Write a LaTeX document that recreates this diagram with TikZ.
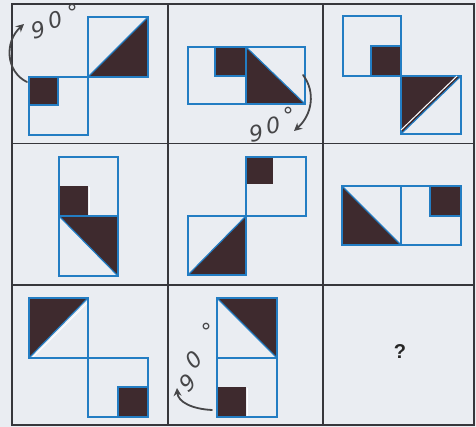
\documentclass[tikz,border=0pt]{standalone}
\usepackage{fontspec}
\setsansfont{Liberation Sans}
\newfontfamily\handfont{DejaVu Sans}
\usetikzlibrary{arrows.meta}
\definecolor{bl}{RGB}{35,125,195}
\definecolor{dk}{RGB}{62,42,46}
\definecolor{bgc}{RGB}{234,237,242}
\definecolor{gl}{RGB}{55,55,60}
\definecolor{hw}{RGB}{70,70,72}
\tikzset{
  sq/.style={draw=bl, line width=1.2pt},
  gridline/.style={draw=gl, line width=1.4pt},
  hand/.style={draw=hw, line width=1.8pt, line cap=round},
  handtext/.style={text=hw, font=\handfont\fontsize{22}{22}\selectfont\itshape, inner sep=0pt},
  gap/.style={draw=white, line width=1pt}
}
\begin{document}
\begin{tikzpicture}[x=1pt,y=-1pt]
\useasboundingbox (0,0) rectangle (476,427);
\fill[bgc] (0,0) rectangle (476,427);
% ---- cell 1
\fill[dk] (88,77)--(148,17)--(148,77)--cycle;
\fill[dk] (29,77) rectangle (58,105);
\draw[sq] (88,17) rectangle (148,77);
\draw[sq] (29,77) rectangle (88,135);
\draw[sq] (88,77)--(148,17);
\draw[sq] (29,105)--(58,105)--(58,77);
% ---- cell 2
\fill[dk] (215,47) rectangle (246,76);
\fill[dk] (246,47)--(305,104)--(246,104)--cycle;
\draw[sq] (188,47) rectangle (305,104);
\draw[sq] (246,47)--(246,104);
\draw[sq] (246,47)--(305,104);
\draw[sq] (215,47)--(215,76)--(246,76);
% ---- cell 3
\fill[dk] (371,46) rectangle (401,76);
\fill[dk] (401,76)--(461,76)--(401,134)--cycle;
\draw[sq] (343,16) rectangle (401,76);
\draw[sq] (401,76) rectangle (461,134);
\draw[gap] (401,130)--(457,76);
\draw[sq] (401,134)--(461,76);
\draw[sq] (371,76)--(371,46)--(401,46);
% ---- cell 4
\fill[dk] (59,186) rectangle (88,216);
\fill[dk] (59,216)--(118,216)--(118,276)--cycle;
\draw[gap] (89,187)--(89,215);
\draw[sq] (59,157) rectangle (118,276);
\draw[sq] (59,216)--(118,216);
\draw[sq] (59,216)--(118,276);
% ---- cell 5
\fill[dk] (246,157) rectangle (273,184);
\fill[dk] (188,275)--(246,216)--(246,275)--cycle;
\draw[sq] (246,157) rectangle (306,216);
\draw[sq] (188,216) rectangle (246,275);
\draw[sq] (188,275)--(246,216);
% ---- cell 6
\fill[dk] (342,186)--(401,245)--(342,245)--cycle;
\fill[dk] (430,186) rectangle (461,216);
\draw[sq] (342,186) rectangle (461,245);
\draw[sq] (401,186)--(401,245);
\draw[sq] (342,186)--(401,245);
\draw[sq] (430,186)--(430,216)--(461,216);
% ---- cell 7
\fill[dk] (29,298)--(88,298)--(29,358)--cycle;
\fill[dk] (118,387) rectangle (148,417);
\draw[gap] (32,358)--(88,302);
\draw[sq] (29,298) rectangle (88,358);
\draw[sq] (88,358) rectangle (148,417);
\draw[sq] (29,358)--(88,298);
\draw[sq] (118,417)--(118,387)--(148,387);
% ---- cell 8
\fill[dk] (217,298)--(277,298)--(277,358)--cycle;
\fill[dk] (217,387) rectangle (246,417);
\draw[gap] (247,388)--(247,416);
\draw[sq] (217,298) rectangle (277,417);
\draw[sq] (217,358)--(277,358);
\draw[sq] (217,298)--(277,358);
% ---- grid
\draw[gridline] (12,4) rectangle (474,425);
\draw[gridline] (168,4)--(168,425);
\draw[gridline] (323,4)--(323,425);
\draw[gridline] (12,143.5)--(474,143.5);
\draw[gridline] (12,285)--(474,285);
% ---- handwriting
\draw[hand, -{Stealth[length=8pt,width=8pt]}] (27,82) .. controls (6,72) and (4,42) .. (24,24);
\node[handtext, rotate=15] (t1a) at (38,30) {9};
\node[handtext, rotate=15] (t1b) at (55,20) {0};
\node[handtext] (t1c) at (72,12) {°};
\draw[hand, -{Stealth[length=8pt,width=8pt]}] (303,75) .. controls (316,92) and (312,115) .. (294,131);
\node[handtext, rotate=10] (t2a) at (256,133) {9};
\node[handtext, rotate=10] (t2b) at (273,125) {0};
\node[handtext] (t2c) at (288,115) {°};
\draw[hand, -{Stealth[length=8pt,width=8pt]}] (212,410) .. controls (192,409) and (178,402) .. (177,388);
\node[handtext, rotate=45] (t3a) at (188,383) {9};
\node[handtext, rotate=45] (t3b) at (194,360) {0};
\node[handtext] (t3c) at (206,331) {°};
\node[font=\sffamily\bfseries\fontsize{20}{20}\selectfont, text=black!85] (q) at (400,352) {?};
\end{tikzpicture}
\end{document}
